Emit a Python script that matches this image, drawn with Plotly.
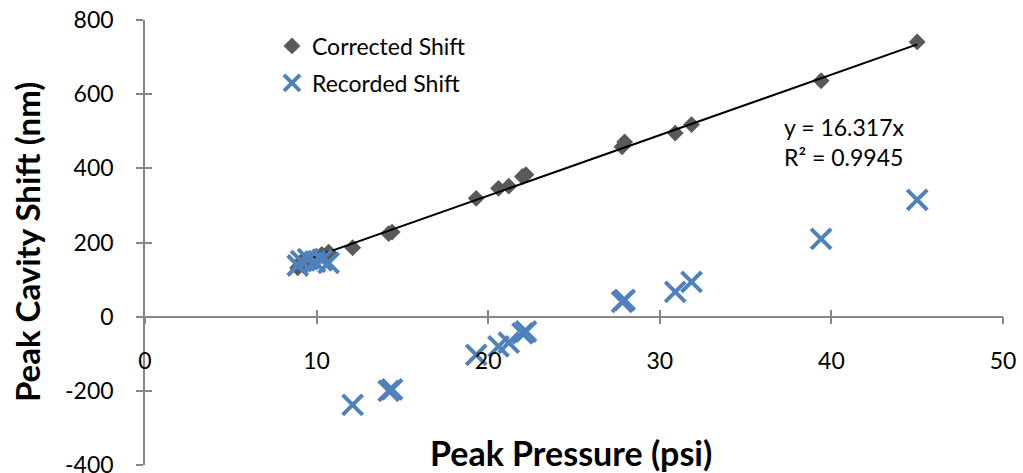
import plotly.graph_objects as go

# ---- data ----
pressure = [8.9, 9.1, 9.5, 9.9, 10.3, 10.7, 12.1, 14.2, 14.4, 19.3, 20.6, 21.2,
            22.0, 22.2, 27.8, 27.95, 30.9, 31.85, 39.4, 45.0]
corrected_shift = [132, 148, 155, 162, 168, 174, 186, 224, 228, 319, 346, 352,
                   378, 383, 458, 471, 495, 518, 636, 741]
recorded_shift = [138, 150, 155, 148, 152, 145, -238, -200, -196, -103, -80, -70,
                  -45, -40, 40, 45, 67, 94, 210, 315]
trend_slope = 16.317
trend_r2 = 0.9945
x_ticks = [0, 10, 20, 30, 40, 50]
y_ticks = [-400, -200, 0, 200, 400, 600, 800]

FONT = "Lato"
AX_GRAY = "#868686"
TXT = 23

fig = go.Figure()

fig.add_trace(go.Scatter(
    x=pressure, y=corrected_shift, mode="markers", name="Corrected Shift",
    legendgroup="a",
    marker=dict(symbol="diamond", size=13, color="#595959",
                line=dict(width=0)),
))

# trendline through origin across the data range
tx = [min(pressure), max(pressure)]
fig.add_trace(go.Scatter(
    x=tx, y=[trend_slope * v for v in tx], mode="lines", showlegend=False,
    line=dict(color="black", width=2),
))

fig.add_trace(go.Scatter(
    x=pressure, y=recorded_shift, mode="markers", name="Recorded Shift",
    legendgroup="b",
    marker=dict(symbol="x-thin", size=20, color="#4F81BD",
                line=dict(width=4, color="#4F81BD")),
))

# invisible helpers for inside (crossing) tick marks
fig.add_trace(go.Scatter(x=[0], y=[0], xaxis="x2", yaxis="y", mode="markers",
                         marker=dict(opacity=0), showlegend=False, hoverinfo="skip"))
fig.add_trace(go.Scatter(x=[0], y=[0], xaxis="x", yaxis="y2", mode="markers",
                         marker=dict(opacity=0), showlegend=False, hoverinfo="skip"))

fig.update_layout(
    width=1023, height=490,
    margin=dict(l=145, r=20, t=20, b=25),
    paper_bgcolor="white", plot_bgcolor="white",
    font=dict(family=FONT, size=TXT, color="black"),
    showlegend=True,
    legend=dict(x=0.148, y=0.99, xanchor="left", yanchor="top",
                bgcolor="rgba(0,0,0,0)", font=dict(size=TXT),
                traceorder="grouped", tracegroupgap=4, itemwidth=30),
    xaxis=dict(range=[0, 50], tickvals=x_ticks, ticktext=[str(v) for v in x_ticks],
               showgrid=False, zeroline=False, automargin=False,
               showline=True, linecolor=AX_GRAY, linewidth=1.5,
               ticks="outside", ticklen=7, tickcolor=AX_GRAY, tickwidth=1.5,
               anchor="free", position=1/3, ticklabelstandoff=17,
               tickfont=dict(size=TXT)),
    xaxis2=dict(range=[0, 50], tickvals=x_ticks, overlaying="x", showgrid=False,
                zeroline=False, showline=False, ticks="inside", ticklen=7,
                tickcolor=AX_GRAY, tickwidth=1.5, showticklabels=False,
                anchor="free", position=1/3, automargin=False),
    yaxis=dict(range=[-400, 800], tickvals=y_ticks, ticktext=[str(v) for v in y_ticks],
               showgrid=False, zeroline=False, automargin=False,
               showline=True, linecolor=AX_GRAY, linewidth=1.5,
               ticks="outside", ticklen=7, tickcolor=AX_GRAY, tickwidth=1.5,
               ticklabelstandoff=18, tickfont=dict(size=TXT)),
    yaxis2=dict(range=[-400, 800], tickvals=y_ticks, overlaying="y", showgrid=False,
                zeroline=False, showline=False, ticks="inside", ticklen=7,
                tickcolor=AX_GRAY, tickwidth=1.5, showticklabels=False,
                anchor="x", side="left", automargin=False),
    annotations=[
        dict(x=37.1, y=470, xref="x", yref="y", xanchor="left", yanchor="middle",
             align="left", showarrow=False,
             text=f"y = {trend_slope}x<br>R² = {trend_r2}",
             font=dict(size=TXT)),
        dict(x=0.497, y=0.029, xref="paper", yref="paper", xanchor="center",
             yanchor="middle", showarrow=False, text="<b>Peak Pressure (psi)</b>",
             font=dict(size=34)),
        dict(x=-0.138, y=0.5, xref="paper", yref="paper", xanchor="center",
             yanchor="middle", showarrow=False, textangle=-90,
             text="<b>Peak Cavity Shift (nm)</b>", font=dict(size=33)),
    ],
)

fig.write_html(
    "out.html",
    config={"displayModeBar": False},
    post_script="document.body.style.margin='0px';document.body.style.overflow='hidden';",
)
